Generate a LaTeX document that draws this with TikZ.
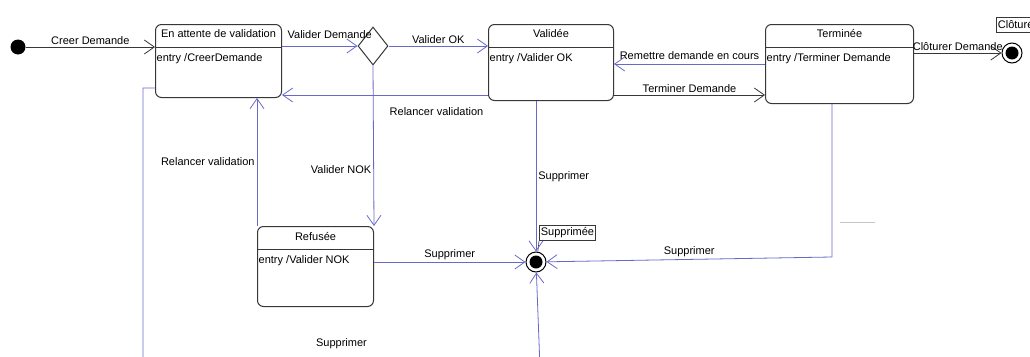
\documentclass[tikz,border=0pt]{standalone}
\usepackage{fontspec}
\setmainfont{Liberation Sans}
\usetikzlibrary{arrows.meta, shapes.geometric, calc}

\definecolor{umlblue}{RGB}{105,105,200}
\definecolor{umlline}{RGB}{55,55,55}

\begin{document}
\begin{tikzpicture}[x=1pt, y=-1pt, font=\fontsize{11}{13}\selectfont,
		etat/.style={draw=umlline, line width=1pt, rounded corners=6pt, anchor=north west, inner sep=0pt},
		titre/.style={inner sep=0pt},
		entree/.style={anchor=west, inner sep=1.5pt},
		trans/.style={-{Straight Barb[length=10pt, width=14pt]}, line width=0.8pt},
		bleu/.style={trans, draw=umlblue},
		noir/.style={trans, draw=umlline},
		lbl/.style={text=black, inner sep=2pt},
		depart/.style={circle, fill=black, minimum size=15pt, inner sep=0pt},
		fin/.style={circle, draw=black, line width=1pt, minimum size=20pt, inner sep=0pt,
			path picture={\fill[black] (path picture bounding box.center) circle (6.5pt);}},
		etiquette/.style={draw=umlline, line width=0.8pt, anchor=north west, inner sep=1.5pt, minimum height=15pt},
		choixnode/.style={diamond, draw=umlline, line width=1pt, minimum width=30pt, minimum height=38pt, inner sep=0pt}]

	\useasboundingbox (0,0) rectangle (1030,356);

	\def\ySep{47};
	\def\yEntree{59};
	\def\yMilieu{64};
	\def\yBas{95};

	% etats
	\node [etat, minimum width=126pt, minimum height=73pt] (attente) at (155,24) {};
	\node [etat, minimum width=125pt, minimum height=76pt] (validee) at (488,24) {};
	\node [etat, minimum width=148pt, minimum height=79pt] (terminee) at (765,24) {};
	\node [etat, minimum width=116pt, minimum height=80pt] (refusee) at (257,226) {};

	\node [titre] (attenteTitre) at ($ (attente.north) + (0,10) $) {En attente de validation};
	\node [titre] (valideeTitre) at ($ (validee.north) + (0,10) $) {Validée};
	\node [titre] (termineeTitre) at ($ (terminee.north) + (0,10) $) {Terminée};
	\node [titre] (refuseeTitre) at ($ (refusee.north) + (0,10) $) {Refusée};

	\begin{scope}[draw=umlline, line width=0.8pt]
		\draw (attente.west |- 0,\ySep) -- (attente.east |- 0,\ySep);
		\draw (validee.west |- 0,\ySep) -- (validee.east |- 0,\ySep);
		\draw (terminee.west |- 0,\ySep) -- (terminee.east |- 0,\ySep);
		\draw (refusee.west |- 0,249) -- (refusee.east |- 0,249);
	\end{scope}

	\node [entree] (attenteEntree) at (attente.west |- 0,\yEntree) {entry /CreerDemande};
	\node [entree] (valideeEntree) at (validee.west |- 0,\yEntree) {entry /Valider OK};
	\node [entree] (termineeEntree) at (terminee.west |- 0,\yEntree) {entry /Terminer Demande};
	\node [entree] (refuseeEntree) at (refusee.west |- 0,261) {entry /Valider NOK};

	% pseudo-etats
	\node [depart] (init) at (18,47) {};
	\node [choixnode] (choix) at (373,46) {};
	\node [fin] (finSuppr) at (536,262) {};
	\node [fin] (finClot) at (1012,53) {};
	\node [etiquette] (tagSuppr) at (539,225) {Supprimée};
	\node [etiquette] (tagClot) at (996,17) {Clôturée};
	\draw [umlline, line width=0.6pt] (tagSuppr.south west) -- (finSuppr.80);

	\coordinate (coinTerm) at (832,257);
	\coordinate (basG) at (143,368);
	\coordinate (basD) at (540,368);

	% transitions
	\draw [noir] (init) -- node [lbl, above] {Creer Demande} (attente.west |- init);
	\draw [bleu] (attente.east |- choix.west) -- node [lbl, above=5pt, xshift=10pt] {Valider Demande} (choix.west);
	\draw [bleu] (choix.east) -- node [lbl, above] {Valider OK} (validee.west |- choix.east);
	\draw [bleu] (choix.south) -- node [lbl, left, pos=0.65] {Valider NOK} (refusee.north east);
	\draw [bleu] (refusee.north west) -- node [lbl, left] {Relancer validation} (refusee.north west |- attente.south);
	\draw [bleu] (validee.west |- 0,\yBas) -- node [lbl, below=10pt, pos=0.25] {Relancer validation} (attente.east |- 0,\yBas);
	\draw [bleu] (terminee.west |- 0,\yMilieu) -- node [lbl, above=2pt] {Remettre demande en cours} (validee.east |- 0,\yMilieu);
	\draw [noir] (validee.east |- 0,\yBas) -- node [lbl, above] {Terminer Demande} (terminee.west |- 0,\yBas);
	\draw [noir] (terminee.east |- finClot) -- node [lbl, above] {Clôturer Demande} (finClot);
	\draw [bleu] (finSuppr |- validee.south) -- node [lbl, right] {Supprimer} (finSuppr);
	\draw [bleu] (refusee.east |- finSuppr) -- node [lbl, above] {Supprimer} (finSuppr);
	\draw [bleu] (coinTerm |- terminee.south) -- (coinTerm) -- node [lbl, above] {Supprimer} (finSuppr);
	\draw [bleu] (attente.west |- 0,88) -- (basG |- 0,88) -- (basG) -- node [lbl, above=17pt] {Supprimer} (basD) -- (finSuppr);

	\draw [gray!45, line width=0.8pt] (840,222) -- (875,222);

\end{tikzpicture}
\end{document}
